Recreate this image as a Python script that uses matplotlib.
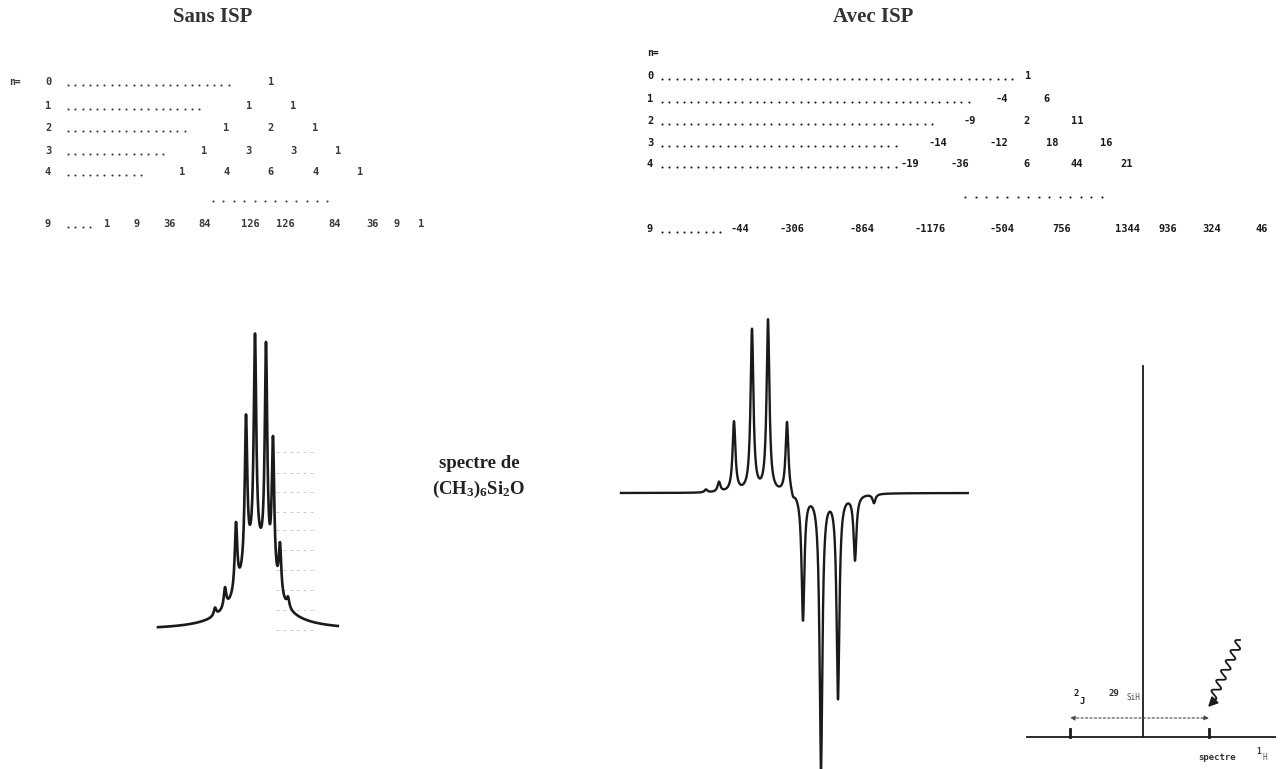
import numpy as np
import matplotlib.pyplot as plt

plt.rcParams['mathtext.fontset'] = 'custom'
plt.rcParams['mathtext.rm'] = 'Liberation Serif:bold'
plt.rcParams['mathtext.it'] = 'Liberation Serif:bold'
plt.rcParams['mathtext.bf'] = 'Liberation Serif:bold'

W, H = 1280, 769

# --- tables: coefficients for n = 0..4 and n = 9
n_rows = [0, 1, 2, 3, 4]
sans_coef = [[1], [1, 1], [1, 2, 1], [1, 3, 3, 1], [1, 4, 6, 4, 1]]
sans_n9 = [1, 9, 36, 84, 126, 126, 84, 36, 9, 1]
avec_coef = [[1], [-4, 6], [-9, 2, 11], [-14, -12, 18, 16], [-19, -36, 6, 44, 21]]
avec_n9 = [-44, -306, -864, -1176, -504, 756, 1344, 936, 324, 46]

# --- spectra: line positions (px offset) and amplitudes
sans_pos = [65, 75, 86, 96, 105, 116, 123, 130, 138]
sans_amp = [8, 20, 68, 150, 215, 220, 140, 50, 10]
sans_bg = (106, 72, 19)   # centre, height, half width of the broad envelope
avec_pos = [91, 104, 119, 137, 153, 172, 178, 188, 206, 223, 240, 259]
avec_amp = [3, 10, 70, 162, 172, 72, -5, -126, -275, -203, -65, -9]

ink = '#1a1a1a'
mono = 'DejaVu Sans Mono'

fig = plt.figure(figsize=(12.8, 7.69), dpi=100)
ax = fig.add_axes([0, 0, 1, 1])
ax.set_xlim(0, W)
ax.set_ylim(H, 0)
ax.axis('off')


def leader(x0, x1, y, step=7.3, col=ink):
    xs = np.arange(x0, x1, step)
    ax.plot(xs, np.full(len(xs), y), ls='none', marker='o', ms=1.5, color=col, mec='none')


def lorentz(x, c, a, w):
    return a / (1 + ((x - c) / w) ** 2)


# titles
ax.text(213, 17, 'Sans ISP', family='Liberation Serif', weight='bold', fontsize=15,
        ha='center', va='center', color='#333333')
ax.text(873, 17, 'Avec ISP', family='Liberation Serif', weight='bold', fontsize=15,
        ha='center', va='center', color='#333333')

# ---- left table (Sans ISP)
colL = '#3a3a3a'
rowL_y = [82, 106, 128, 151, 172]
dotsL_end = [230, 205, 190, 167, 146]
ax.text(15, 82, 'n=', family=mono, weight='bold', fontsize=7, ha='center', va='center', color=colL)
for n, y, xe, coefs in zip(n_rows, rowL_y, dotsL_end, sans_coef):
    ax.text(48, y, str(n), family=mono, weight='bold', fontsize=7.5, ha='center', va='center', color=colL)
    leader(68, xe, y + 3, col=colL)
    for k, c in enumerate(coefs):
        ax.text(271 + 22.25 * (2 * k - n), y, str(c), family=mono, weight='bold',
                fontsize=7.5, ha='center', va='center', color=colL)
leader(213, 330, 201, step=10.4, col=colL)
ax.text(48, 224, '9', family=mono, weight='bold', fontsize=7.5, ha='center', va='center', color=colL)
leader(68, 90, 227, col=colL)
posL9 = [107, 137, 170, 205, 250, 285, 335, 373, 397, 421]
for x, c in zip(posL9, sans_n9):
    ax.text(x, 224, str(c), family=mono, weight='bold', fontsize=7.5, ha='center', va='center', color=colL)

# ---- right table (Avec ISP)
rowR_y = [76, 99, 121, 143, 164]
dotsR_end = [1018, 975, 934, 902, 898]
posR = [[1028], [1002, 1047], [970, 1027, 1077], [938, 999, 1052, 1106],
        [910, 960, 1027, 1077, 1127]]
ax.text(653, 53, 'n=', family=mono, weight='bold', fontsize=7, ha='center', va='center', color=ink)
for n, y, xe, xs, coefs in zip(n_rows, rowR_y, dotsR_end, posR, avec_coef):
    ax.text(650, y, str(n), family=mono, weight='bold', fontsize=7.5, ha='center', va='center', color=ink)
    leader(662, xe, y + 3)
    for x, c in zip(xs, coefs):
        ax.text(x, y, str(c), family=mono, weight='bold', fontsize=7.5, ha='center', va='center', color=ink)
leader(965, 1105, 197, step=10.5)
ax.text(650, 229, '9', family=mono, weight='bold', fontsize=7.5, ha='center', va='center', color=ink)
leader(662, 722, 232)
posR9 = [740, 792, 862, 930, 1002, 1062, 1128, 1168, 1212, 1262]
for x, c in zip(posR9, avec_n9):
    ax.text(x, 229, str(c), family=mono, weight='bold', fontsize=7.5, ha='center', va='center', color=ink)

# ---- centre label
ax.text(479, 463, 'spectre de', family='Liberation Serif', weight='bold', fontsize=13.5,
        ha='center', va='center', color='#222222')
ax.text(479, 489, r'(CH$_\mathrm{3}$)$_\mathrm{6}$Si$_\mathrm{2}$O', family='Liberation Serif',
        weight='bold', fontsize=13.5, ha='center', va='center', color='#222222')

# ---- faint ruler marks beside left spectrum
for y in [452, 473, 492, 512, 530, 550, 570, 590, 610, 630]:
    ax.plot([276, 314], [y, y], color='#cccccc', lw=0.7, ls=(0, (3, 4)))

# ---- left spectrum
axL = fig.add_axes([150 / W, 1 - 640 / H, 196 / W, 310 / H])
axL.set_xlim(0, 196)
axL.set_ylim(-10, 300)
axL.axis('off')
xl = np.arange(8, 188, 0.2)
yl = lorentz(xl, *sans_bg)
for c, a in zip(sans_pos, sans_amp):
    yl = yl + lorentz(xl, c, a, 1.5)
axL.plot(xl, yl, color=ink, lw=1.9)

# ---- right spectrum
axR = fig.add_axes([615 / W, 1 - 775 / H, 360 / W, 465 / H])
axR.set_xlim(0, 360)
axR.set_ylim(-282, 183)
axR.axis('off')
xr = np.arange(6, 353, 0.2)
yr = np.zeros_like(xr)
for c, a in zip(avec_pos, avec_amp):
    yr = yr + lorentz(xr, c, a, 1.7)
axR.plot(xr, yr, color=ink, lw=1.7)

# ---- schematic on the right
ax.plot([1027, 1275], [737, 737], color=ink, lw=1.3)
ax.plot([1143, 1143], [366, 737], color=ink, lw=1.3)
for x in [1070, 1209]:
    ax.plot([x, x], [729, 737], color=ink, lw=2)
ax.annotate('', xy=(1070, 718), xytext=(1209, 718),
            arrowprops=dict(arrowstyle='<|-|>', color='#444444', lw=0.8, ls=(0, (2, 2)),
                            mutation_scale=7, shrinkA=0, shrinkB=0))
ax.text(1076, 693, '2', family=mono, weight='bold', fontsize=6.5, ha='center', va='center', color=ink)
ax.text(1082, 701, 'J', family=mono, weight='bold', fontsize=6.5, ha='center', va='center', color=ink)
ax.text(1114, 693, '29', family=mono, weight='bold', fontsize=6.5, ha='center', va='center', color='#333333')
ax.text(1133, 698, 'SiH', family=mono, fontsize=5.5, ha='center', va='center', color='#555555')
ax.text(1217, 757, 'spectre', family=mono, weight='bold', fontsize=6.5, ha='center', va='center', color='#333333')
ax.text(1259, 752, '1', family=mono, weight='bold', fontsize=5.5, ha='center', va='center', color='#333333')
ax.text(1265, 757, 'H', family=mono, fontsize=5.5, ha='center', va='center', color='#555555')

# wavy irradiation arrow
S = np.array([1240.0, 640.0])
E = np.array([1208.0, 707.0])
d = E - S
L = np.hypot(*d)
u = d / L
nrm = np.array([-u[1], u[0]])
t = np.linspace(0, L - 10, 300)
amp = 4.0
wx = S[0] + u[0] * t + nrm[0] * amp * np.sin(2 * np.pi * t / 11)
wy = S[1] + u[1] * t + nrm[1] * amp * np.sin(2 * np.pi * t / 11)
ax.plot(wx, wy, color=ink, lw=1.3)
ax.annotate('', xy=tuple(E), xytext=(wx[-1], wy[-1]),
            arrowprops=dict(arrowstyle='-|>', color=ink, lw=1.3, mutation_scale=14,
                            shrinkA=0, shrinkB=0))

fig.savefig('out.png', dpi=100)
